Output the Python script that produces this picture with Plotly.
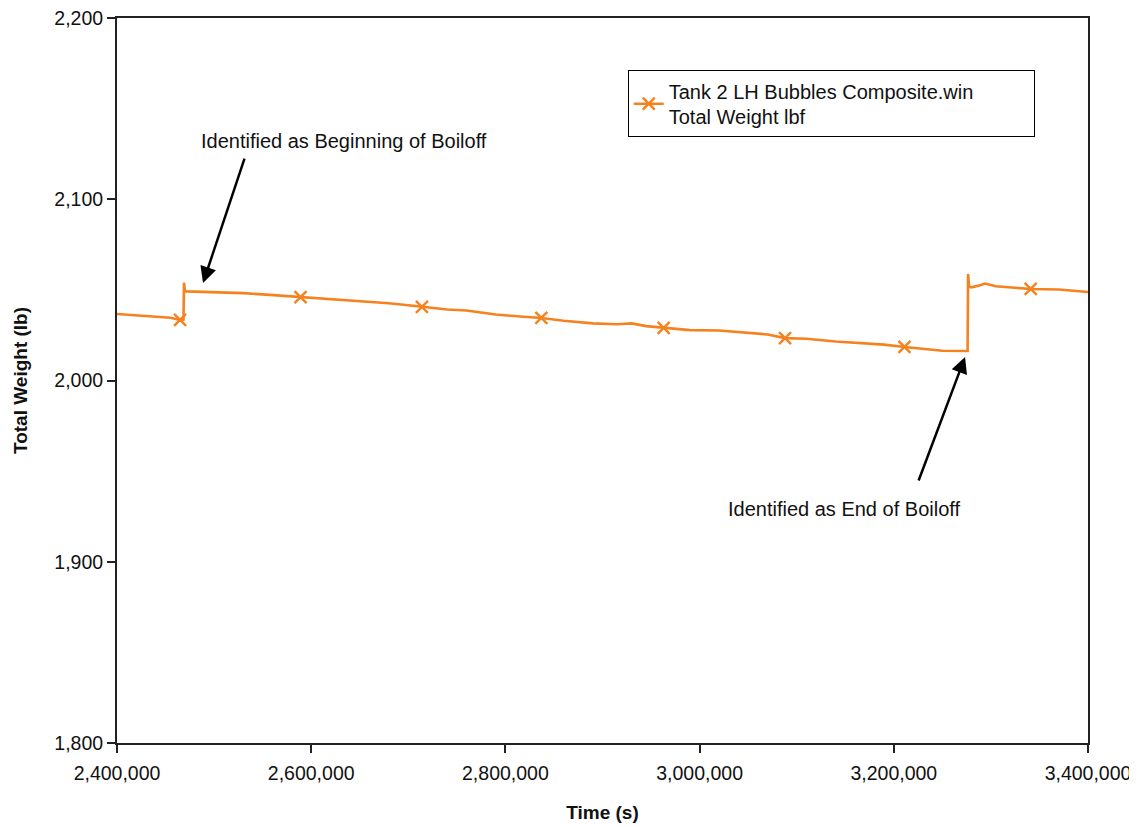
import plotly.graph_objects as go

# Time (s) and total weight (lb)
time_s = [2400000, 2420000, 2440000, 2455000, 2465000, 2468500, 2469000, 2470000, 2472000,
          2490000, 2510000, 2530000, 2550000, 2570000, 2589000, 2610000, 2630000, 2650000,
          2680000, 2700000, 2714000, 2740000, 2760000, 2790000, 2815000, 2837000, 2860000,
          2890000, 2915000, 2930000, 2945000, 2963000, 2990000, 3020000, 3050000, 3070000,
          3088000, 3110000, 3140000, 3170000, 3190000, 3211000, 3230000, 3250000, 3276000,
          3276500, 3277500, 3280000, 3288000, 3294000, 3305000, 3320000, 3341000, 3370000,
          3400000]
weight_lb = [2036.7, 2035.8, 2035.2, 2034.6, 2033.4, 2033.6, 2054.0, 2049.3, 2049.2,
             2049.0, 2048.5, 2048.2, 2047.5, 2046.8, 2046.0, 2045.1, 2044.3, 2043.6,
             2042.6, 2041.5, 2040.6, 2039.2, 2038.6, 2036.4, 2035.3, 2034.5, 2033.0,
             2031.5, 2031.0, 2031.5, 2030.0, 2029.0, 2027.8, 2027.6, 2026.4, 2025.4,
             2023.4, 2023.0, 2021.5, 2020.6, 2019.8, 2018.5, 2017.3, 2016.4, 2016.3,
             2058.8, 2051.8, 2051.4, 2052.4, 2053.5, 2052.0, 2051.3, 2050.5, 2050.2,
             2048.8]

# Marker positions along the series
marker_time = [2465000, 2589000, 2714000, 2837000, 2963000, 3088000, 3211000, 3341000]
marker_weight = [2033.4, 2046.0, 2040.6, 2034.5, 2029.0, 2023.4, 2018.5, 2050.5]

series_name = "Tank 2 LH Bubbles Composite.win<br>Total Weight lbf"
x_ticks = [2400000, 2600000, 2800000, 3000000, 3200000, 3400000]
y_ticks = [1800, 1900, 2000, 2100, 2200]

ORANGE = "#F5821F"
FONT = "Liberation Sans, Arial, sans-serif"

fig = go.Figure()
fig.add_trace(go.Scatter(x=time_s, y=weight_lb, mode="lines",
                         line=dict(color=ORANGE, width=2.6), showlegend=False,
                         hoverinfo="skip"))
fig.add_trace(go.Scatter(x=marker_time, y=marker_weight, mode="markers",
                         marker=dict(symbol="x-thin", size=12, color=ORANGE,
                                     line=dict(color=ORANGE, width=2.4)),
                         showlegend=False))
fig.add_trace(go.Scatter(x=[None], y=[None], mode="lines+markers", name=series_name,
                         line=dict(color=ORANGE, width=2.6),
                         marker=dict(symbol="x-thin", size=12, color=ORANGE,
                                     line=dict(color=ORANGE, width=2.4))))

# Arrows
fig.add_annotation(x=2488600, y=2053.8, ax=2531800, ay=2123.3, xref="x", yref="y",
                   axref="x", ayref="y", text="", showarrow=True, arrowhead=2,
                   arrowsize=1.3, arrowwidth=2.5, arrowcolor="black")
fig.add_annotation(x=3273400, y=2013.0, ax=3225000, ay=1944.0, xref="x", yref="y",
                   axref="x", ayref="y", text="", showarrow=True, arrowhead=2,
                   arrowsize=1.3, arrowwidth=2.5, arrowcolor="black")
fig.add_annotation(x=2633800, y=2132.1, xref="x", yref="y", text="Identified as Beginning of Boiloff",
                   showarrow=False, font=dict(size=20, color="#111", family=FONT))
fig.add_annotation(x=3148800, y=1929.1, xref="x", yref="y", text="Identified as End of Boiloff",
                   showarrow=False, font=dict(size=20, color="#111", family=FONT))

axis_common = dict(showline=True, linecolor="#222", linewidth=2, mirror=True,
                   ticks="outside", ticklen=8, tickwidth=1.5, tickcolor="#222",
                   showgrid=False, zeroline=False, ticklabeloverflow="allow",
                   automargin=False,
                   tickfont=dict(size=19.5, color="#111", family=FONT))

fig.update_xaxes(range=[2400000, 3400000], tickvals=x_ticks, tickformat=",",
                 ticklabelstandoff=4,
                 title=dict(text="<b>Time (s)</b>", font=dict(size=19, color="#111", family=FONT),
                            standoff=22),
                 **axis_common)
fig.update_yaxes(range=[1800, 2200], tickvals=y_ticks, tickformat=",",
                 title=dict(text="<b>Total Weight (lb)</b>", font=dict(size=19, color="#111", family=FONT),
                            standoff=22),
                 **axis_common)

fig.update_layout(
    width=1137, height=826,
    margin=dict(l=109, r=57, t=10, b=91),
    paper_bgcolor="white", plot_bgcolor="white",
    font=dict(family=FONT, color="#111"),
    legend=dict(x=0.526, y=0.928, xanchor="left", yanchor="top",
                orientation="h", entrywidth=360, entrywidthmode="pixels",
                bordercolor="black", borderwidth=1, bgcolor="white",
                font=dict(size=20, color="#111", family=FONT)),
)

fig.write_html("out.html")
